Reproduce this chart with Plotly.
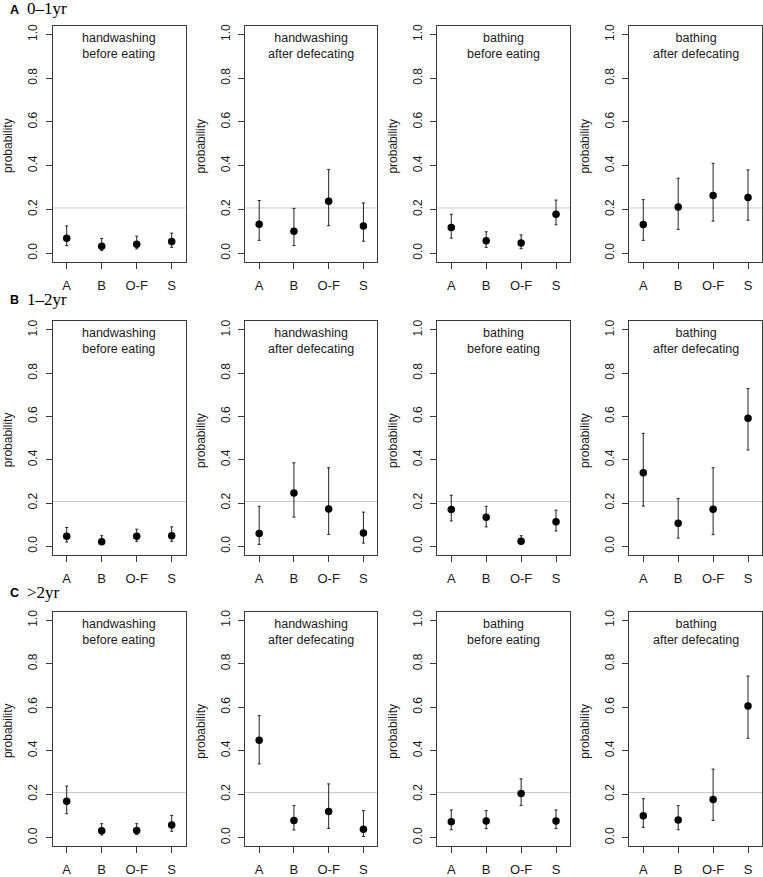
import plotly.graph_objects as go

# ---------------- data ----------------
categories = ["A", "B", "O-F", "S"]
row_letters = ["A", "B", "C"]
age_groups = ["0–1yr", "1–2yr", ">2yr"]
behaviours = ["handwashing<br>before eating", "handwashing<br>after defecating",
              "bathing<br>before eating", "bathing<br>after defecating"]
reference_prob = 0.207

# estimates (per row: one list per behaviour, values for A, B, O-F, S)
est_0_1yr = [[0.069, 0.032, 0.041, 0.054],
             [0.132, 0.100, 0.238, 0.124],
             [0.118, 0.057, 0.047, 0.178],
             [0.131, 0.211, 0.264, 0.255]]
hi_0_1yr = [[0.125, 0.068, 0.078, 0.092],
            [0.241, 0.205, 0.383, 0.230],
            [0.178, 0.098, 0.084, 0.243],
            [0.245, 0.343, 0.411, 0.381]]
lo_0_1yr = [[0.035, 0.012, 0.020, 0.027],
            [0.059, 0.035, 0.126, 0.055],
            [0.069, 0.027, 0.021, 0.130],
            [0.059, 0.109, 0.147, 0.151]]

est_1_2yr = [[0.046, 0.021, 0.046, 0.049],
             [0.059, 0.246, 0.172, 0.062],
             [0.170, 0.134, 0.023, 0.114],
             [0.340, 0.107, 0.171, 0.592]]
hi_1_2yr = [[0.087, 0.049, 0.079, 0.090],
            [0.185, 0.386, 0.363, 0.158],
            [0.236, 0.185, 0.049, 0.167],
            [0.522, 0.221, 0.363, 0.729]]
lo_1_2yr = [[0.020, 0.011, 0.023, 0.023],
            [0.009, 0.135, 0.055, 0.015],
            [0.117, 0.090, 0.011, 0.071],
            [0.186, 0.038, 0.054, 0.445]]

est_gt2yr = [[0.167, 0.032, 0.033, 0.058],
             [0.448, 0.079, 0.120, 0.038],
             [0.073, 0.076, 0.203, 0.076],
             [0.100, 0.081, 0.175, 0.606]]
hi_gt2yr = [[0.237, 0.064, 0.064, 0.102],
            [0.561, 0.147, 0.247, 0.124],
            [0.127, 0.124, 0.270, 0.127],
            [0.179, 0.147, 0.315, 0.743]]
lo_gt2yr = [[0.110, 0.012, 0.014, 0.029],
            [0.339, 0.035, 0.042, 0.005],
            [0.036, 0.041, 0.148, 0.041],
            [0.047, 0.036, 0.079, 0.457]]

y_ticks = [0.0, 0.2, 0.4, 0.6, 0.8, 1.0]

# ---------------- layout ----------------
W, H = 763, 877
col_px = [(52.7, 185.7), (245.3, 377.3), (437.3, 570.0), (629.3, 762.0)]
row_px = [(24.0, 263.3), (323.3, 560.0), (617.3, 855.0)]
row_label_y = [8, 302, 599]

EST = [est_0_1yr, est_1_2yr, est_gt2yr]
HI = [hi_0_1yr, hi_1_2yr, hi_gt2yr]
LO = [lo_0_1yr, lo_1_2yr, lo_gt2yr]

FONT = "Liberation Sans, Arial, Helvetica, sans-serif"
LINE = "#3a3a3a"
TXT = "#1a1a1a"

fig = go.Figure()
xpos = list(range(1, len(categories) + 1))
layout_axes = {}
annotations = []
shapes = []

for r in range(3):
    for c in range(4):
        i = r * 4 + c + 1
        xa = "x" if i == 1 else f"x{i}"
        ya = "y" if i == 1 else f"y{i}"
        est = EST[r][c]
        hi = HI[r][c]
        lo = LO[r][c]
        fig.add_trace(go.Scatter(
            x=xpos, y=est, mode="markers",
            marker=dict(color="black", size=7.5),
            error_y=dict(type="data", symmetric=False,
                         array=[h - e for h, e in zip(hi, est)],
                         arrayminus=[e - l for e, l in zip(est, lo)],
                         width=1.5, thickness=1, color="#222"),
            xaxis=xa, yaxis=ya, showlegend=False, hoverinfo="skip"))

        x0, x1 = col_px[c]
        y0, y1 = row_px[r]
        xkey = "xaxis" if i == 1 else f"xaxis{i}"
        ykey = "yaxis" if i == 1 else f"yaxis{i}"
        layout_axes[xkey] = dict(
            domain=[x0 / W, x1 / W], anchor=ya, range=[0.6, 4.4],
            tickmode="array", tickvals=xpos, ticktext=categories,
            showline=True, mirror=True, linecolor=LINE, linewidth=1,
            ticks="outside", ticklen=6, tickcolor=LINE, ticklabelstandoff=5,
            showgrid=False, zeroline=False,
            tickfont=dict(size=13, color=TXT, family=FONT))
        layout_axes[ykey] = dict(
            domain=[1 - y1 / H, 1 - y0 / H], anchor=xa, range=[-0.04, 1.04],
            tickmode="array", tickvals=y_ticks,
            ticktext=[f"{v:.1f}" for v in y_ticks], tickangle=-90,
            showline=True, mirror=True, linecolor=LINE, linewidth=1,
            ticks="outside", ticklen=6, tickcolor=LINE, ticklabelstandoff=4,
            showgrid=False, zeroline=False,
            tickfont=dict(size=12, color=TXT, family=FONT))

        shapes.append(dict(type="line", xref=f"{xa} domain", yref=ya,
                           x0=0, x1=1, y0=reference_prob, y1=reference_prob,
                           line=dict(color="#c8c8c8", width=1), layer="below"))

        annotations.append(dict(
            text=behaviours[c], xref=f"{xa} domain", yref=f"{ya} domain",
            x=0.5, y=1, xanchor="center", yanchor="top", yshift=-3,
            showarrow=False, font=dict(size=12.5, color=TXT, family=FONT)))

        annotations.append(dict(
            text="probability", xref="paper", yref="paper",
            x=(x0 - 44.5) / W, y=1 - ((y0 + y1) / 2 + 2) / H,
            xanchor="center", yanchor="middle", textangle=-90,
            showarrow=False, font=dict(size=12, color=TXT, family=FONT)))

    annotations.append(dict(
        text=f"<b>{row_letters[r]}</b>", xref="paper", yref="paper",
        x=9 / W, y=1 - row_label_y[r] / H, xanchor="left", yanchor="middle",
        showarrow=False, borderpad=0,
        font=dict(size=12.5, color="black", family=FONT)))
    annotations.append(dict(
        text=age_groups[r], xref="paper", yref="paper",
        x=26 / W, y=1 - (row_label_y[r] - 1) / H, xanchor="left", yanchor="middle",
        showarrow=False, borderpad=0,
        font=dict(size=17, color="black",
                  family="Liberation Serif, Times New Roman, serif")))

fig.update_layout(
    width=W, height=H, margin=dict(l=0, r=0, t=0, b=0),
    paper_bgcolor="white", plot_bgcolor="white",
    font=dict(family=FONT, color=TXT),
    annotations=annotations, shapes=shapes, showlegend=False,
    **layout_axes)

fig.write_html("out.html",
               config={"displayModeBar": False, "staticPlot": True},
               post_script="document.body.style.margin='0px';"
                           "document.body.style.overflow='hidden';")
